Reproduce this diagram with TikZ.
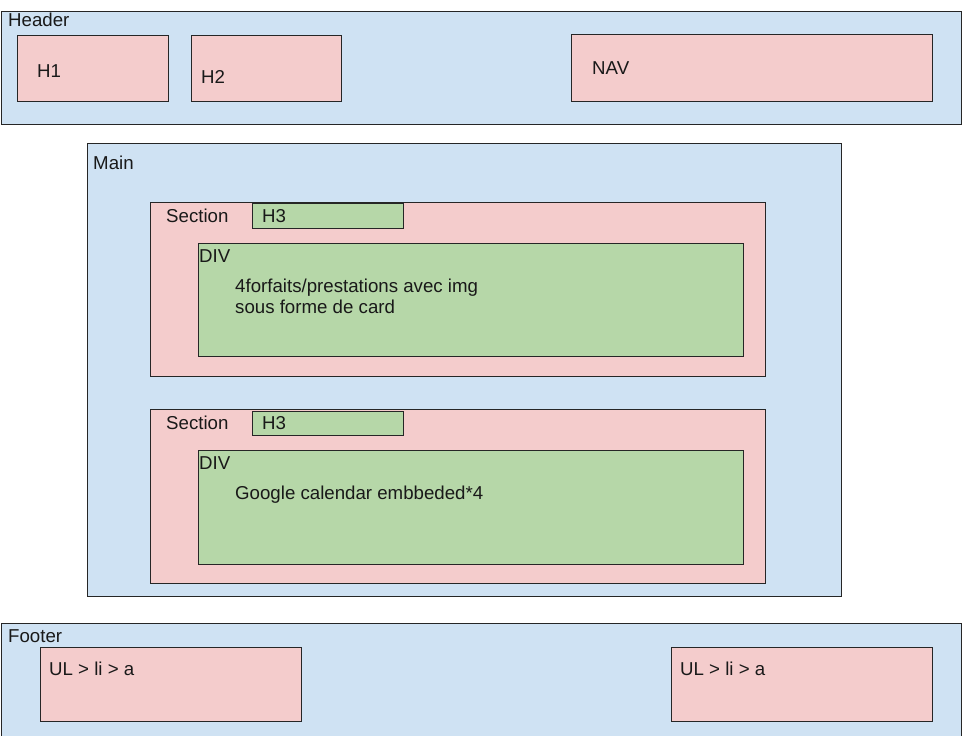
\documentclass[tikz,border=0pt]{standalone}
\usepackage{fontspec}
\setmainfont{Liberation Sans}
\usetikzlibrary{positioning}

\definecolor{zoneblue}{HTML}{CFE2F3}
\definecolor{partpink}{HTML}{F4CCCC}
\definecolor{leafgreen}{HTML}{B6D7A8}

\begin{document}
\begin{tikzpicture}[x=1pt,y=-1pt,
    box/.style={draw=black!85,line width=0.8pt,rectangle,inner sep=0pt,anchor=north west},
    zone/.style={box,fill=zoneblue},
    part/.style={box,fill=partpink},
    leaf/.style={box,fill=leafgreen},
    txt/.style={anchor=base west,inner sep=0pt,text=black!90,font=\fontsize{18.67}{21}\selectfont}]

  \useasboundingbox (0,0) rectangle (962,736);

  % header
  \node[zone, minimum width=960, minimum height=113] (header) at (1,11) {};
  \node[part, minimum width=151, minimum height=66] (h1) at (17,35) {};
  \node[part, minimum width=150, minimum height=66] (h2) at (191,35) {};
  \node[part, minimum width=361, minimum height=67] (nav) at (571,34) {};
  \node[txt] (headertxt) at (8,27) {Header};
  \node[txt] (h1txt) at (37,77) {H1};
  \node[txt] (h2txt) at (201,83) {H2};
  \node[txt] (navtxt) at (592,74) {NAV};

  % main
  \node[zone, minimum width=754, minimum height=453] (main) at (87,143) {};
  \node[txt] (maintxt) at (93,169) {Main};

  \node[part, minimum width=615, minimum height=174] (secA) at (150,202) {};
  \node[leaf, minimum width=151, minimum height=25] (htA) at (252,203) {};
  \node[leaf, minimum width=545, minimum height=113] (divA) at (198,243) {};
  \node[txt] (secAtxt) at (166,222) {Section};
  \node[txt] (htAtxt) at (262,222) {H3};
  \node[txt] (divAtxt) at (199,262) {DIV};
  \node[txt] (cardA) at (235,292) {4forfaits/prestations avec img};
  \node[txt] (cardB) at (235,313) {sous forme de card};

  \node[part, minimum width=615, minimum height=174] (secB) at (150,409) {};
  \node[leaf, minimum width=151, minimum height=24] (htB) at (252,411) {};
  \node[leaf, minimum width=545, minimum height=114] (divB) at (198,450) {};
  \node[txt] (secBtxt) at (166,429) {Section};
  \node[txt] (htBtxt) at (262,429) {H3};
  \node[txt] (divBtxt) at (199,469) {DIV};
  \node[txt] (calendar) at (235,499) {Google calendar embbeded*4};

  % footer
  \node[zone, minimum width=960, minimum height=120] (footer) at (1,623) {};
  \node[part, minimum width=261, minimum height=74] (ulA) at (40,647) {};
  \node[part, minimum width=261, minimum height=74] (ulB) at (671,647) {};
  \node[txt] (footertxt) at (8,642) {Footer};
  \node[txt] (ulAtxt) at (49,675) {UL > li > a};
  \node[txt] (ulBtxt) at (680,675) {UL > li > a};

\end{tikzpicture}
\end{document}
